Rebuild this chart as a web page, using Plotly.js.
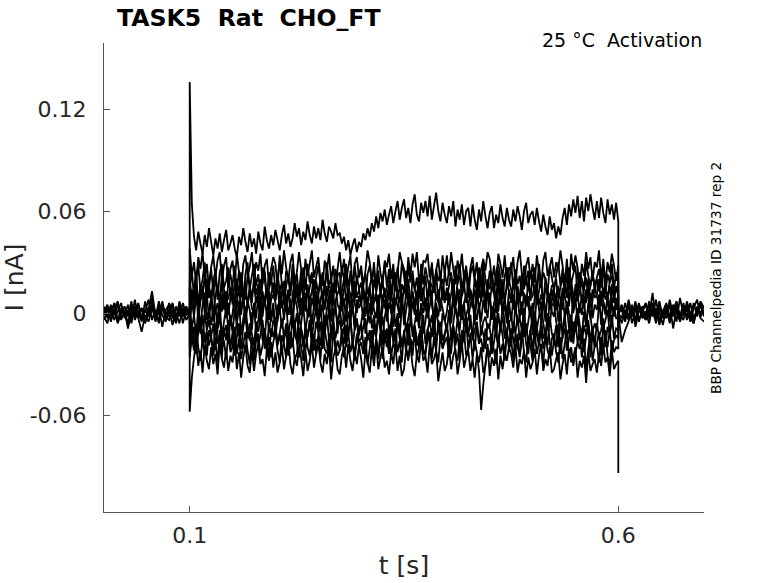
<!DOCTYPE html>
<html>
<head>
<meta charset="utf-8">
<script src="https://cdn.plot.ly/plotly-3.0.1.min.js"></script>
<style>html,body{margin:0;padding:0;background:#fff;}#chart{width:778px;height:583px;}</style>
</head>
<body>
<div id="chart"></div>
<script>
// ---- data (currents in pA, converted to nA when plotted) ----
const UNIT = 0.001; // pA -> nA
const stepStart = 0.1, stepStop = 0.6;
const dtStep = 0.0025, dtBase = 0.004;
const xTickVals = [0.1, 0.6];
const xTickText = ['0.1', '0.6'];
const yTickVals = [-0.06, 0, 0.06, 0.12];
const yTickText = ['-0.06', '0', '0.06', '0.12'];

// sweeps during the step, sampled every 2.5 ms from 0.1 s to 0.6 s
const iTop = [
 136,64,45,37,48,41,35,46,39,50, 42,34,44,38,47,36,43,49,37,41,
 46,38,33,45,40,50,42,36,47,39, 44,35,48,41,37,51,43,38,46,40,
 49,43,37,46,52,41,47,39,44,53, 45,50,40,48,43,54,46,41,51,44,
 50,43,55,47,42,51,48,44,53,46, 47,41,45,37,43,34,40,44,36,42,
 39,47,43,50,45,53,48,57,50,59, 54,61,52,58,63,53,60,66,55,62,
 67,56,62,53,64,70,58,54,65,59, 66,57,69,55,63,71,60,54,65,58,
 53,63,57,66,51,61,55,64,52,60, 62,51,64,55,49,61,54,66,57,50,
 59,63,50,58,53,64,56,51,62,55, 51,61,54,63,57,49,60,65,53,58,
 60,52,62,54,48,58,51,46,57,49, 53,44,51,46,56,62,52,64,57,67,
 59,69,56,66,54,68,60,70,62,55, 66,56,68,59,53,67,58,64,55,65,
 54];
const iStep2 = [
 38,22,30,17,33,26,36,20,29,14, 27,34,21,31,36,19,28,33,15,26,
 31,18,35,24,13,29,34,22,27,36, 20,30,25,35,17,28,32,16,26,33,
 29,15,34,23,37,27,19,30,35,18, 24,36,26,14,32,22,29,37,21,27,
 33,20,16,31,25,35,19,28,13,26, 36,23,32,18,27,34,14,29,33,21,
 28,16,25,37,30,19,26,15,34,24, 17,31,27,35,20,29,13,24,36,30,
 26,14,33,22,35,27,36,19,15,31, 30,35,21,28,16,25,32,18,34,23,
 34,22,36,26,17,31,24,35,20,28, 15,27,33,21,30,14,26,32,25,36,
 32,19,28,16,35,29,21,34,18,27, 25,33,17,30,37,23,14,28,33,20,
 29,18,34,24,15,31,36,22,27,33, 21,30,26,37,28,16,32,14,35,25,
 34,27,15,29,22,36,26,33,19,30, 27,37,20,32,17,30,24,35,28,19,
 28];
const iStep3 = [
 14,25,9,22,28,13,20,30,11,18, 26,12,21,8,24,29,15,19,27,10,
 17,28,13,25,19,7,23,30,14,22, 29,16,23,11,27,20,9,24,18,28,
 12,21,30,17,8,25,22,13,29,16, 23,10,19,27,14,29,18,24,9,21,
 28,17,24,12,30,15,21,8,26,19, 11,27,20,29,16,22,13,28,18,25,
 24,14,8,23,28,18,30,12,21,15, 19,29,16,26,10,24,17,27,13,30,
 22,11,28,18,25,13,21,9,29,17, 27,20,14,30,12,26,19,23,8,24,
 16,25,21,10,28,17,29,14,22,26, 9,23,28,19,13,27,15,30,20,12,
 25,18,11,24,29,21,8,22,27,16, 30,14,26,17,22,10,28,19,13,25,
 18,27,12,29,15,24,20,11,28,21, 13,22,30,16,26,19,9,27,17,23,
 28,10,24,20,14,30,22,16,25,12, 21,26,15,28,11,23,18,29,14,24,
 20];
const iStep4 = [
 20,8,15,24,4,17,11,22,6,16, 9,19,25,12,7,21,14,3,18,23,
 15,5,20,10,24,13,8,22,16,6, 21,11,17,3,19,25,9,14,20,12,
 7,23,13,18,5,16,22,10,24,8, 17,12,25,6,20,9,15,23,4,19,
 11,21,8,16,24,13,5,18,12,22, 24,6,14,20,9,25,17,7,21,15,
 5,18,23,11,16,4,20,13,25,10, 19,9,15,22,7,18,24,12,6,17,
 13,25,10,4,21,14,8,23,16,11, 22,7,19,16,12,24,6,17,20,9,
 8,16,24,13,5,19,22,10,15,25, 18,12,6,21,17,9,14,24,4,20,
 14,23,16,8,25,11,20,6,18,13, 6,17,21,12,9,23,15,19,25,7,
 23,10,14,25,18,5,21,13,9,16, 16,20,8,15,22,12,25,4,19,11,
 10,24,18,6,14,21,9,16,23,17, 20,13,25,9,17,7,19,22,11,15,
 14];
const iStep5 = [
 3,14,7,19,1,11,16,5,20,9, 13,-1,10,17,6,20,2,12,8,15,
 5,18,11,0,14,7,19,3,16,10, 17,6,13,20,-2,9,15,4,11,18,
 8,16,2,12,19,6,14,-1,10,20, 15,4,18,9,1,17,7,13,20,3,
 11,19,6,14,8,0,16,10,18,5, 2,13,20,7,15,11,4,19,9,14,
 18,8,12,3,16,21,6,10,0,13, 7,15,-1,17,10,5,19,12,14,4,
 16,9,20,6,13,2,11,18,7,15, 1,12,17,10,19,8,14,3,16,9,
 13,5,11,20,4,15,-2,12,18,6, 19,10,3,14,9,17,7,20,1,11,
 6,16,12,0,18,5,13,9,15,19, 14,2,19,11,7,16,10,4,20,8,
 10,17,5,13,21,3,15,11,6,14, 4,11,16,8,2,18,9,19,12,0,
 17,7,13,19,10,6,20,3,14,9, 11,20,4,15,8,12,1,17,6,16,
 10];
const iStep6 = [
 -2,9,3,14,-5,7,12,0,10,-3, 8,15,1,6,-4,11,4,13,-1,9,
 12,-3,7,16,2,9,-6,5,14,3, 0,10,6,-2,13,4,15,-4,8,11,
 6,-5,14,3,9,1,12,7,-3,16, 10,4,-1,11,6,15,-2,9,3,13,
 -4,8,13,2,16,5,10,-3,7,12, 14,1,9,-5,11,3,15,6,0,10,
 5,16,-2,8,13,-1,7,12,4,-4, 11,3,10,15,0,9,5,14,-3,8,
 -1,13,6,2,12,7,-5,10,15,4, 9,0,16,5,-3,11,8,1,13,6,
 15,7,-2,12,4,10,14,-4,6,11, 3,14,9,-1,16,2,8,13,5,-3,
 12,-4,6,10,1,15,3,9,-2,14, 7,11,2,16,8,-1,12,4,10,0,
 -3,9,14,5,11,6,-5,13,2,8, 13,2,8,-2,15,10,4,7,16,1,
 6,12,0,11,3,14,9,-4,8,15, 10,4,13,7,-1,9,16,5,11,2,
 6];
const iStep7 = [
 -6,7,-2,10,3,-8,5,12,-4,2, 9,-5,4,-9,8,1,11,-3,6,-7,
 0,10,-6,5,-1,12,-4,7,2,-10, 6,-3,11,-7,4,9,-2,13,-5,3,
 -8,5,1,8,-4,11,-1,6,-9,10, 4,-6,9,2,12,-3,7,-7,5,0,
 11,-2,6,-10,3,8,-5,10,1,-4, -1,9,-7,4,13,-2,5,-8,8,3,
 7,-4,12,0,-6,10,2,-3,11,-9, 3,8,-5,6,1,-8,9,4,-2,12,
 -7,2,10,-4,7,-1,13,-6,5,0, 9,-3,4,11,-9,6,-2,8,3,-5,
 1,12,-6,7,2,-4,10,-1,6,-8, -3,5,9,-7,11,4,-5,8,0,13,
 10,-2,3,-9,6,12,-1,5,-6,7, -5,8,1,10,-3,7,-8,11,4,-2,
 6,-7,12,2,-4,9,3,-10,8,1, -2,10,-5,5,13,-3,7,0,-6,11,
 8,-4,6,-1,9,-8,4,12,-3,5, 2,11,-7,7,0,10,-5,6,-2,9,
 1];
const iStep8 = [
 5,-9,-1,-13,3,-6,-15,0,-10,2, -7,4,-12,-2,6,-14,-5,3,-9,-1,
 -11,1,-6,7,-13,-3,4,-8,-16,0, 2,-10,-4,5,-7,-15,1,-11,-2,6,
 -14,-3,3,-9,-1,7,-12,-5,2,-8, 0,-13,-6,4,-10,-2,6,-15,-4,3,
 -9,5,-11,-1,-7,2,-14,-3,7,-12, 4,-8,-2,-16,1,-5,5,-10,-3,-13,
 -6,3,-12,-4,6,-9,-1,-14,2,-7, -15,-2,4,-11,-5,7,-8,0,-13,3,
 1,-10,-3,5,-14,-6,2,-9,6,-12, -5,6,-8,-1,-13,3,-7,-16,0,-4,
 -11,2,-15,-6,4,-2,-10,5,-8,-1, 3,-7,-12,1,-4,6,-13,-5,-2,-9,
 -8,4,-3,-14,0,-11,5,-6,-15,2, -1,-12,6,-7,-3,-10,3,-13,-5,4,
 -13,1,-9,-2,7,-6,-14,0,-8,5, 6,-5,-11,2,-15,-3,4,-9,-1,-12,
 -4,3,-7,-13,1,-8,6,-2,-11,-6, -10,5,-1,-9,-4,2,-12,-6,4,-3,
 -3];
const iStep9 = [
 -3,-15,-8,-19,-5,-12,-1,-17,-10,-4, -14,-6,-20,-9,-2,-16,-11,-7,-18,-3,
 -10,-17,-4,-13,-21,-8,-1,-15,-6,-12, -19,-5,-11,-2,-16,-9,-20,-7,-14,-4,
 -7,-18,-12,-3,-15,-6,-10,-19,-1,-13, -16,-2,-9,-20,-8,-14,-4,-11,-17,-5,
 -11,-19,-6,-13,-1,-16,-10,-3,-15,-8, -4,-12,-18,-7,-14,-2,-20,-9,-5,-17,
 -15,-8,-3,-16,-10,-19,-6,-13,-1,-11, -2,-14,-9,-21,-5,-12,-17,-4,-10,-18,
 -13,-6,-19,-3,-11,-7,-15,-20,-8,-1, -18,-10,-4,-14,-2,-17,-9,-5,-16,-12,
 -6,-20,-11,-8,-15,-3,-13,-19,-7,-2, -14,-1,-16,-10,-5,-18,-8,-12,-21,-6,
 -9,-17,-3,-13,-19,-7,-2,-15,-11,-4, -20,-5,-12,-1,-16,-9,-14,-6,-18,-10,
 -3,-13,-8,-17,-4,-15,-11,-19,-2,-12, -16,-7,-20,-6,-10,-1,-14,-9,-17,-5,
 -11,-2,-15,-18,-7,-13,-4,-16,-8,-19, -6,-14,-10,-3,-20,-8,-12,-1,-15,-9,
 -10];
const iStep10 = [
 -20,-8,-17,-24,-11,-5,-19,-13,-25,-10, -15,-22,-7,-18,-12,-26,-9,-16,-4,-21,
 -11,-25,-14,-6,-20,-17,-23,-8,-15,-19, -24,-10,-18,-13,-4,-21,-16,-26,-9,-14,
 -7,-19,-12,-23,-16,-8,-25,-11,-20,-5, -17,-26,-9,-15,-22,-13,-6,-19,-12,-24,
 -13,-5,-21,-10,-18,-25,-14,-7,-23,-16, -22,-15,-8,-20,-11,-4,-17,-24,-13,-9,
 -6,-18,-25,-12,-16,-21,-9,-14,-26,-11, -19,-10,-14,-24,-7,-17,-22,-5,-15,-20,
 -12,-23,-6,-16,-25,-10,-19,-13,-8,-21, -25,-9,-18,-11,-14,-22,-4,-16,-20,-13,
 -8,-16,-24,-7,-19,-12,-26,-10,-17,-5, -21,-13,-10,-22,-6,-18,-15,-23,-9,-16,
 -14,-24,-17,-8,-20,-5,-13,-25,-11,-19, -9,-15,-22,-12,-26,-16,-7,-18,-24,-10,
 -23,-6,-13,-19,-10,-21,-14,-4,-17,-25, -16,-20,-8,-24,-13,-9,-22,-15,-6,-18,
 -5,-17,-21,-11,-23,-14,-8,-26,-12,-20, -18,-11,-25,-7,-15,-20,-10,-22,-16,-13,
 -15];
const iStep11 = [
 -26,-14,-22,-9,-20,-28,-15,-24,-11,-19, -13,-25,-17,-29,-10,-21,-16,-27,-12,-23,
 -20,-8,-24,-15,-27,-18,-11,-22,-30,-14, -28,-16,-12,-25,-19,-9,-23,-14,-26,-17,
 -11,-22,-29,-13,-18,-26,-10,-21,-15,-27, -24,-12,-19,-28,-8,-20,-25,-13,-22,-16,
 -15,-27,-10,-21,-24,-14,-29,-11,-18,-25, -22,-9,-26,-16,-12,-23,-17,-28,-13,-20,
 -17,-24,-14,-30,-21,-10,-25,-15,-27,-12, -27,-13,-20,-11,-25,-18,-9,-23,-16,-29,
 -10,-21,-28,-15,-19,-12,-26,-20,-8,-24, -23,-16,-11,-27,-14,-22,-29,-13,-21,-17,
 -14,-26,-19,-9,-24,-28,-15,-20,-11,-25, -21,-12,-27,-16,-23,-34,-57,-42,-30,-20,
 -26,-15,-22,-30,-13,-24,-18,-28,-11,-21, -16,-27,-12,-20,-25,-9,-23,-29,-14,-19,
 -28,-11,-24,-17,-21,-30,-13,-22,-26,-15, -12,-23,-29,-14,-27,-18,-10,-25,-20,-31,
 -24,-17,-11,-26,-15,-33,-21,-13,-28,-19, -18,-29,-14,-22,-10,-25,-31,-16,-23,-20,
 -21];
const iStep12 = [
 -58,-38,-26,-17,-31,-22,-35,-19,-28,-33, -20,-30,-24,-36,-18,-27,-32,-21,-34,-25,
 -29,-16,-33,-23,-38,-26,-19,-31,-35,-22, -34,-24,-18,-30,-27,-37,-21,-28,-17,-32,
 -23,-35,-29,-19,-33,-25,-16,-30,-36,-26, -31,-20,-27,-37,-22,-34,-28,-18,-32,-24,
 -17,-29,-35,-24,-30,-19,-39,-26,-21,-33, -36,-25,-20,-32,-18,-28,-34,-23,-30,-19,
 -27,-38,-22,-29,-35,-21,-31,-17,-33,-26, -20,-32,-28,-36,-23,-30,-18,-34,-25,-37,
 -33,-21,-26,-19,-31,-37,-24,-29,-16,-28, -25,-35,-18,-30,-27,-22,-40,-31,-23,-34,
 -30,-19,-33,-25,-21,-36,-28,-17,-32,-26, -22,-34,-27,-38,-24,-29,-20,-35,-31,-18,
 -37,-26,-31,-21,-39,-25,-33,-23,-28,-20, -24,-32,-19,-35,-27,-30,-22,-38,-26,-33,
 -29,-21,-36,-25,-18,-34,-27,-31,-20,-35, -33,-27,-23,-39,-30,-24,-36,-21,-29,-26,
 -20,-38,-28,-32,-25,-41,-23,-34,-30,-27, -35,-24,-31,-19,-29,-26,-37,-22,-33,-30,
 -28];
// value each sweep jumps to at the step offset (0.6 s)
const stepOffValues = [0,0,0,0,0,0,0,0,0,0,0,-94];

// holding-level noise before and after the step, sampled every 4 ms
const basePre1 = [3,-2,5,-4,1,6,-3,2,-6,4,0,-5,7,-1,3,-4,2,5,-3,1,-7,4,-2,6,-1,0];
const basePre2 = [-4,2,-1,6,-5,3,0,-7,4,-2,5,-3,1,8,-4,2,-6,3,0,-2,5,-4,7,-1,3,0];
const basePre3 = [1,5,-3,2,-6,0,4,-2,7,-4,1,3,-5,2,13,-1,4,-8,2,5,-3,0,-6,3,1,0];
const basePre4 = [-2,-6,3,-1,5,-4,2,-9,1,4,-3,-11,-1,-5,3,0,-4,7,-2,-4,2,-3,5,-6,2,0];
const basePre5 = [4,-3,0,6,-5,2,-1,5,-4,8,-2,3,-6,1,5,-3,7,-1,-5,2,6,-4,1,-2,4,0];
const basePre6 = [-1,4,-5,2,7,-3,1,-6,3,0,6,-4,2,-2,9,-5,1,4,-3,6,-1,-6,3,2,-4,0];
const basePost1 = [0,-17,-10,-5,3,-4,6,-2,1,-6,4,-1,7,-3,2,-5,5,0,-4,3,-2,6,-3,1,4,-1];
const basePost2 = [0,5,-3,8,-1,4,-5,2,6,-2,12,-4,3,-1,5,-6,2,7,-3,0,4,-5,3,8,-2,2];
const basePost3 = [0,-6,2,-4,5,-8,1,4,-3,7,-1,3,-7,2,0,5,-9,3,-2,6,-4,1,-6,4,-3,-5];
const basePost4 = [0,3,-1,6,-6,2,4,-3,0,5,-2,8,-4,1,6,-2,3,-5,9,-1,2,-3,6,-2,7,3];
const basePost5 = [0,2,-5,4,-2,7,-4,1,5,-3,2,-6,4,0,-3,8,-1,3,-5,2,5,-2,-6,3,0,4];
const basePost6 = [0,-3,6,-2,3,-5,5,-1,-4,2,6,-3,1,-7,3,4,-2,5,-1,-4,7,0,-3,2,6,-2];

// ---- build traces ----
function grid(t0, dt, n) {
  return Array.from({length: n}, (_, i) => +(t0 + i * dt).toFixed(5));
}
const lineStyle = {color: '#000000', width: 1.8, simplify: false};
const traces = [];
function addTrace(x, yPA) {
  traces.push({type: 'scatter', mode: 'lines', x: x, y: yPA.map(v => v * UNIT),
    line: lineStyle, showlegend: false, hoverinfo: 'skip'});
}
[basePre1, basePre2, basePre3, basePre4, basePre5, basePre6]
  .forEach(v => addTrace(grid(0, dtBase, v.length), v));
[basePost1, basePost2, basePost3, basePost4, basePost5, basePost6]
  .forEach(v => addTrace(grid(stepStop, dtBase, v.length), v));
const stepSweeps = [iTop, iStep2, iStep3, iStep4, iStep5, iStep6, iStep7, iStep8, iStep9, iStep10, iStep11, iStep12];
stepSweeps.forEach((v, k) => {
  addTrace([stepStart, ...grid(stepStart, dtStep, v.length), stepStop],
           [0, ...v, stepOffValues[k]]);
});

const FONT = 'DejaVu Sans, Liberation Sans, sans-serif';
const NB = '\u00A0';
const layout = {
  width: 778, height: 583,
  margin: {l: 104, r: 74, t: 43, b: 71, pad: 0},
  paper_bgcolor: '#ffffff', plot_bgcolor: '#ffffff',
  font: {family: FONT, color: '#262626'},
  hovermode: false,
  title: {
    text: 'TASK5' + NB + NB + 'Rat' + NB + NB + 'CHO_FT',
    font: {family: FONT, size: 23.6, color: '#000000', weight: 700},
    xref: 'container', x: 117 / 778, xanchor: 'left',
    yref: 'container', y: 1 - 18 / 583, yanchor: 'middle'
  },
  xaxis: {
    range: [0, 0.7], tickmode: 'array', tickvals: xTickVals, ticktext: xTickText,
    ticks: 'inside', ticklen: 6, tickwidth: 1, tickcolor: '#555555',
    showline: true, linecolor: '#555555', linewidth: 1, mirror: false,
    showgrid: false, zeroline: false, ticklabelstandoff: 4,
    tickfont: {family: FONT, size: 22, color: '#262626'},
    title: {text: 't [s]', font: {family: FONT, size: 25, color: '#262626'}, standoff: 9},
    automargin: false, fixedrange: true
  },
  yaxis: {
    range: [-0.117, 0.159], tickmode: 'array', tickvals: yTickVals, ticktext: yTickText,
    ticks: 'inside', ticklen: 6, tickwidth: 1, tickcolor: '#555555',
    showline: true, linecolor: '#555555', linewidth: 1, mirror: false,
    showgrid: false, zeroline: false, ticklabelstandoff: 12,
    tickfont: {family: FONT, size: 22, color: '#262626'},
    title: {text: 'I [nA]', font: {family: FONT, size: 25, color: '#262626'}, standoff: 6},
    automargin: false, fixedrange: true
  },
  annotations: [
    {text: '25 °C' + NB + NB + 'Activation', xref: 'paper', yref: 'paper',
     x: 1, y: 1.006, xanchor: 'right', yanchor: 'middle', showarrow: false,
     font: {family: FONT, size: 19, color: '#000000'}},
    {text: 'BBP Channelpedia ID 31737 rep 2', xref: 'paper', yref: 'paper',
     x: (716 - 104) / 600, y: (512 - 278) / 469, xanchor: 'center', yanchor: 'middle',
     textangle: -90, showarrow: false,
     font: {family: FONT, size: 13.7, color: '#000000'}}
  ]
};
Plotly.newPlot('chart', traces, layout, {displayModeBar: false, staticPlot: true});
</script>
</body>
</html>
